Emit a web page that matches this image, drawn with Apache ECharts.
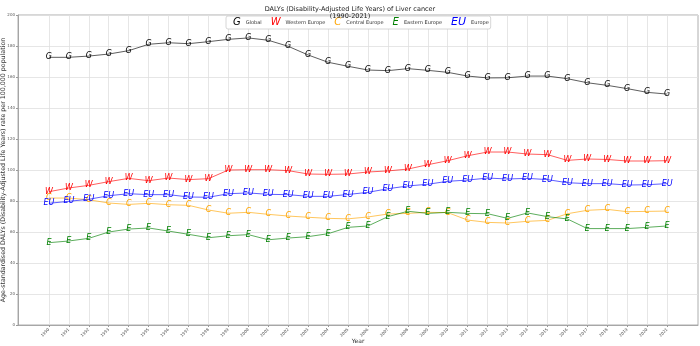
<!DOCTYPE html>
<html>
<head>
<meta charset="utf-8">
<script src="https://cdn.jsdelivr.net/npm/echarts@6/dist/echarts.min.js"></script>
<style>
  html, body { margin: 0; padding: 0; background: #fff; }
  #chart { width: 700px; height: 346px; }
</style>
</head>
<body>
<div id="chart"></div>
<script>
// years on the x axis
const years = [1990, 1991, 1992, 1993, 1994, 1995, 1996, 1997, 1998, 1999, 2000,
  2001, 2002, 2003, 2004, 2005, 2006, 2007, 2008, 2009, 2010,
  2011, 2012, 2013, 2014, 2015, 2016, 2017, 2018, 2019, 2020, 2021];

const yTicks = [0, 20, 40, 60, 80, 100, 120, 140, 160, 180, 200];

// age-standardised DALYs rate per 100,000
const globalVals = [172.7, 172.7, 173.5, 174.8, 177.0, 181.1, 182.1, 181.5, 182.8, 184.3, 185.2,
  183.7, 179.8, 174.2, 169.5, 166.9, 164.5, 164.1, 165.4, 164.3, 163.0,
  160.6, 159.4, 159.5, 160.6, 160.6, 158.9, 156.3, 154.6, 152.5, 150.1, 149.0];
const westernVals = [86.0, 88.4, 90.1, 92.5, 94.6, 93.1, 94.8, 93.8, 94.4, 100.0, 100.2,
  100.2, 99.6, 97.4, 97.2, 97.4, 98.7, 99.4, 100.6, 103.4, 106.0,
  109.2, 111.6, 111.6, 110.3, 109.9, 106.2, 107.1, 106.8, 105.8, 105.8, 106.0];
const centralVals = [81.9, 81.9, 80.8, 78.7, 77.8, 78.5, 77.6, 77.2, 74.2, 72.1, 72.7,
  71.4, 70.3, 69.5, 68.8, 68.5, 69.7, 71.6, 72.0, 72.7, 72.5,
  67.7, 66.2, 65.8, 66.9, 67.5, 71.8, 74.0, 74.6, 73.1, 73.3, 73.5];
const easternVals = [53.1, 54.2, 55.9, 60.0, 61.9, 62.6, 60.6, 58.5, 56.3, 57.6, 58.3,
  55.0, 56.1, 57.0, 58.9, 63.0, 63.9, 69.9, 73.4, 72.0, 72.7,
  72.0, 71.8, 68.8, 72.3, 69.9, 68.4, 62.2, 62.2, 62.2, 63.0, 63.9];
const europeVals = [78.5, 79.8, 81.1, 83.4, 84.7, 84.1, 84.1, 82.6, 82.4, 84.7, 85.2,
  84.3, 84.1, 83.0, 83.0, 84.2, 85.6, 87.9, 89.7, 90.8, 92.7,
  93.5, 94.8, 94.2, 94.6, 93.8, 91.8, 91.2, 91.2, 90.3, 90.5, 91.2];

const seriesDefs = [
  { name: 'Global', letter: 'G', key: 'g', color: '#000000', values: globalVals },
  { name: 'Western Europe', letter: 'W', key: 'w', color: '#ff0000', values: westernVals },
  { name: 'Central Europe', letter: 'C', key: 'c', color: '#ffa500', values: centralVals },
  { name: 'Eastern Europe', letter: 'E', key: 'e', color: '#008000', values: easternVals },
  { name: 'Europe', letter: 'EU', key: 'eu', color: '#0000ff', values: europeVals }
];

const font = 'DejaVu Sans';
const rich = {};
seriesDefs.forEach(s => {
  rich[s.key] = {
    color: s.color, fontSize: s.key === 'eu' ? 11 : 10, fontStyle: 'italic',
    fontFamily: font, padding: [0, 5, 0, 0]
  };
});
rich.t = { fontSize: 5, color: '#333', fontFamily: font };

const chart = echarts.init(document.getElementById('chart'));
chart.setOption({
  animation: false,
  title: {
    text: 'DALYs (Disability-Adjusted Life Years) of Liver cancer\n(1990-2021)',
    left: 'center',
    top: 1,
    textStyle: { fontSize: 6.5, fontWeight: 'normal', color: '#222', lineHeight: 7, fontFamily: font }
  },
  legend: {
    left: 226,
    top: 16,
    icon: 'none',
    itemWidth: 0,
    itemHeight: 8,
    itemGap: 4,
    padding: [1, 2],
    borderColor: '#cccccc',
    borderWidth: 0.8,
    borderRadius: 2,
    backgroundColor: '#ffffff',
    data: seriesDefs.map(s => s.name),
    formatter: name => {
      const s = seriesDefs.find(d => d.name === name);
      return '{' + s.key + '|' + s.letter + '}{t|' + name + '}';
    },
    textStyle: { rich: rich }
  },
  grid: {
    left: 18, right: 2, top: 15, bottom: 21,
    outerBoundsMode: 'none',
    show: true, borderColor: '#999', borderWidth: 0.8
  },
  xAxis: {
    type: 'value',
    min: 1988.45,
    max: 2022.55,
    name: 'Year',
    nameLocation: 'middle',
    nameGap: 13,
    nameMoveOverlap: false,
    nameTextStyle: { fontSize: 6, color: '#333', fontFamily: font },
    axisLine: { lineStyle: { color: '#999', width: 0.8 } },
    axisTick: { show: true, customValues: years, length: 2, lineStyle: { color: '#999' } },
    axisLabel: {
      customValues: years, rotate: 45, fontSize: 4, color: '#555', margin: 4, fontFamily: font,
      formatter: v => String(v)
    },
    splitLine: { show: true, lineStyle: { color: '#e0e0e0', width: 0.8 } }
  },
  yAxis: {
    type: 'value',
    min: 0,
    max: 200,
    interval: 20,
    name: 'Age-standardised DALYs (Disability-Adjusted Life Years) rate per 100,000 population',
    nameLocation: 'middle',
    nameGap: 12,
    nameMoveOverlap: false,
    nameTextStyle: { fontSize: 6.3, color: '#333', fontFamily: font },
    axisLine: { show: true, lineStyle: { color: '#999', width: 0.8 } },
    axisTick: { show: true, length: 2, lineStyle: { color: '#999' } },
    axisLabel: {
      fontSize: 4, color: '#555', margin: 3, fontFamily: font,
      customValues: yTicks
    },
    splitLine: { show: true, lineStyle: { color: '#e0e0e0', width: 0.8 } }
  },
  series: seriesDefs.map(s => ({
    name: s.name,
    type: 'line',
    data: years.map((y, i) => [y, s.values[i]]),
    symbol: 'circle',
    symbolSize: 1,
    itemStyle: { color: 'transparent', borderWidth: 0 },
    lineStyle: { color: s.color, width: 0.8, opacity: 0.8 },
    label: {
      show: true,
      position: 'inside',
      formatter: s.letter,
      color: s.color,
      fontSize: 8,
      fontStyle: 'italic',
      fontFamily: font
    },
    z: 3
  }))
});
</script>
</body>
</html>
